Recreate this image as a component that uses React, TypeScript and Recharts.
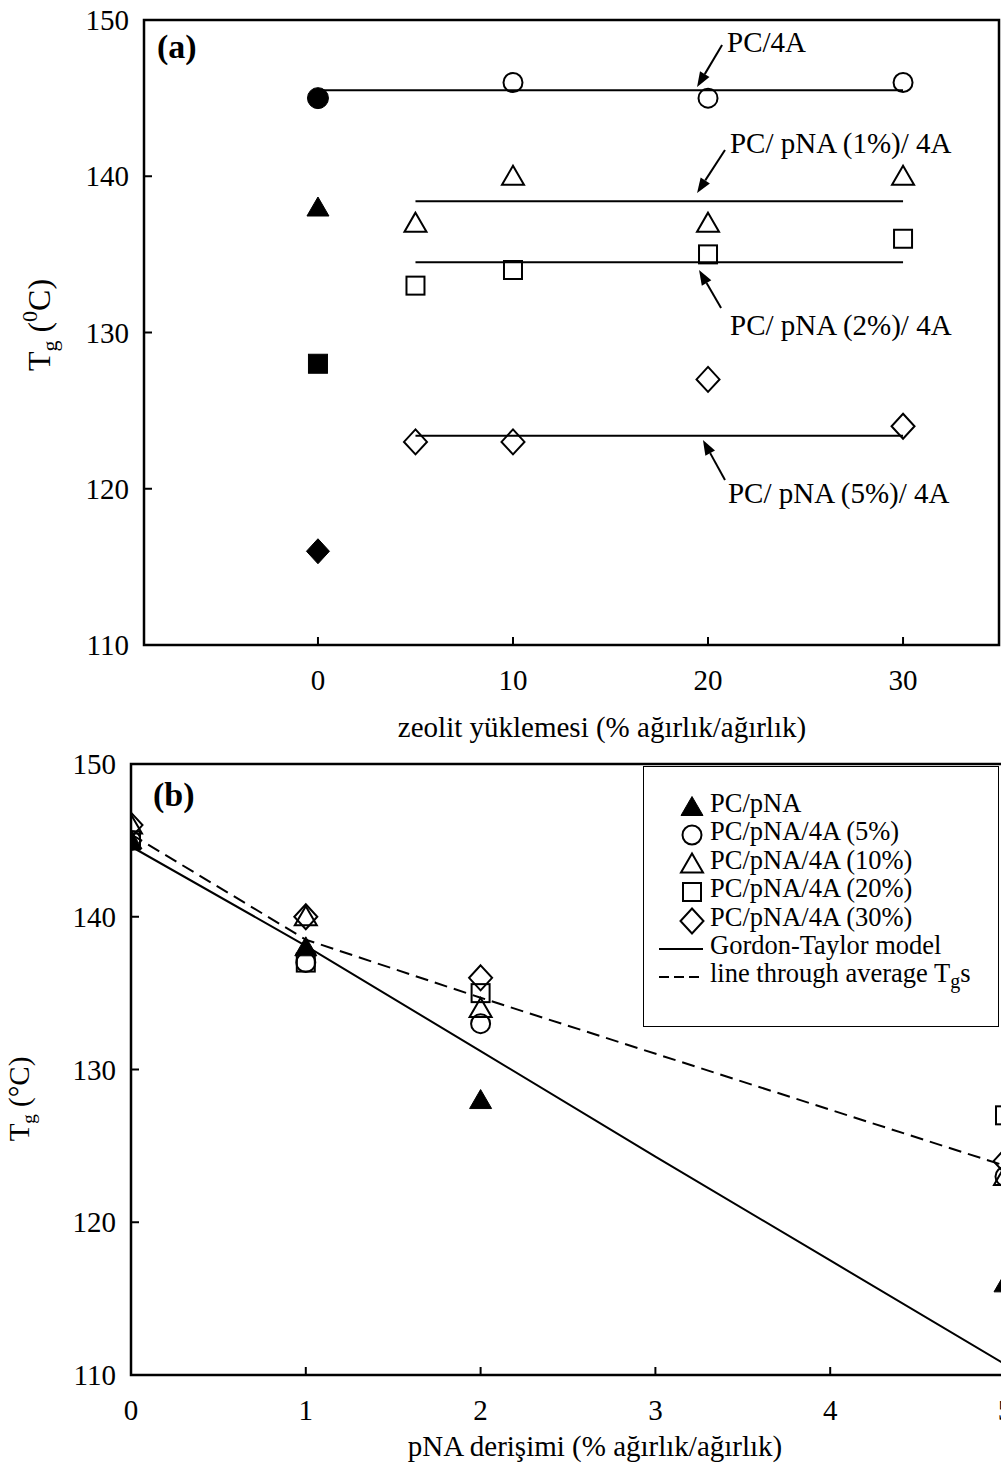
import React from "react";
import {
  ComposedChart,
  XAxis,
  YAxis,
  Scatter,
  Line,
  ReferenceArea,
  ReferenceLine,
  Legend,
} from "recharts";

// (a) Tg vs zeolite loading, (b) Tg vs pNA concentration
// layout numbers tuned to the scanned figure

const FONT = "'Liberation Serif', 'Times New Roman', serif";

// ---- panel (a) data ----
const loadingTicks = [0, 10, 20, 30];
const tgTicks = [110, 120, 130, 140, 150];
const noZeoliteTg = [145, 138, 128, 116]; // PC, pNA 1%, 2%, 5% at 0 loading
const pc4aLoading = [10, 20, 30];
const pc4aTg = [146, 145, 146];
const openLoading = [5, 10, 20, 30];
const pna1Tg = [137, 140, 137, 140];
const pna2Tg = [133, 134, 135, 136];
const pna5Tg = [123, 123, 127, 124];
const meanTg = [145.5, 138.4, 134.5, 123.4];
const meanFrom = [0, 5, 5, 5];
const meanTo = [30, 30, 30, 30];

// ---- panel (b) data ----
const pnaTicks = [0, 1, 2, 3, 4, 5];
const pnaConc = [0, 1, 2, 5];
const pcPnaTg = [145, 138, 128, 116];
const z5Tg = [145, 137, 133, 123];
const z10Tg = [146, 140, 134, 123];
const z20Tg = [145, 137, 135, 127];
const z30Tg = [146, 140, 136, 124];
const gtConc = [0, 1, 2, 3, 4, 5];
const gtTg = [144.6, 138.1, 131.2, 124.3, 117.5, 110.7];
const avgTg = [145.4, 138.5, 134.7, 123.7];

const xDomainA = [-8.92, 34.92];
const xDomainB = [0, 5];
const tgDomain = [110, 150];

const pts = (xs: number[], ys: number[]) => xs.map((x, i) => ({ x, y: ys[i] }));

type Kind = "circle" | "triangle" | "square" | "diamond";

function Mark({ kind, filled, cx, cy }: { kind: Kind; filled?: boolean; cx: number; cy: number }) {
  const fill = filled ? "#000" : "none";
  const sw = filled ? 1 : 2;
  if (kind === "circle") {
    return <circle cx={cx} cy={cy} r={filled ? 10.5 : 9.5} fill={fill} stroke="#000" strokeWidth={sw} />;
  }
  if (kind === "triangle") {
    const p = `${cx},${cy - 10.5} ${cx - 11},${cy + 8.5} ${cx + 11},${cy + 8.5}`;
    return <polygon points={p} fill={fill} stroke="#000" strokeWidth={sw} strokeLinejoin="miter" />;
  }
  if (kind === "square") {
    const h = filled ? 9.5 : 9;
    return <rect x={cx - h} y={cy - h} width={2 * h} height={2 * h} fill={fill} stroke="#000" strokeWidth={sw} />;
  }
  const p = `${cx},${cy - 12.5} ${cx + 11.5},${cy} ${cx},${cy + 12.5} ${cx - 11.5},${cy}`;
  return <polygon points={p} fill={fill} stroke="#000" strokeWidth={sw} />;
}

const shapeOf = (kind: Kind, filled = false) => (p: any) => (
  <Mark kind={kind} filled={filled} cx={p.cx} cy={p.cy} />
);

const XTick = (labelGap: number) => (p: any) => (
  <g>
    <line x1={p.x} x2={p.x} y1={p.y} y2={p.y - 8} stroke="#000" strokeWidth={2} />
    <text x={p.x} y={p.y + labelGap} textAnchor="middle" fontFamily={FONT} fontSize={29} fill="#000">
      {p.payload.value}
    </text>
  </g>
);

const YTick = (p: any) => (
  <g>
    <line x1={p.x} x2={p.x + 8} y1={p.y} y2={p.y} stroke="#000" strokeWidth={2} />
    <text x={p.x - 15} y={p.y + 10} textAnchor="end" fontFamily={FONT} fontSize={29} fill="#000">
      {p.payload.value}
    </text>
  </g>
);

// arrow annotations for panel (a): tail -> tip in data units, text offset in px from tail
const annotations = [
  { text: "PC/4A", tail: [20.72, 148.4], tip: [19.44, 145.71], dx: 5, dy: 7 },
  { text: "PC/ pNA (1%)/ 4A", tail: [20.87, 141.68], tip: [19.44, 138.93], dx: 5, dy: 3 },
  { text: "PC/ pNA (2%)/ 4A", tail: [20.67, 131.57], tip: [19.54, 134.0], dx: 9, dy: 27 },
  { text: "PC/ pNA (5%)/ 4A", tail: [20.87, 120.56], tip: [19.74, 123.12], dx: 3, dy: 23 },
];

const arrowShape = (text: string, dx: number, dy: number) => (p: any) => {
  const { x1, y1, x2, y2 } = p;
  const ang = Math.atan2(y2 - y1, x2 - x1);
  const L = 15;
  const W = 5.5;
  const bx = x2 - L * Math.cos(ang);
  const by = y2 - L * Math.sin(ang);
  const nx = -Math.sin(ang) * W;
  const ny = Math.cos(ang) * W;
  return (
    <g>
      <line x1={x1} y1={y1} x2={bx} y2={by} stroke="#000" strokeWidth={2} />
      <polygon points={`${x2},${y2} ${bx + nx},${by + ny} ${bx - nx},${by - ny}`} fill="#000" />
      <text x={x1 + dx} y={y1 + dy} fontFamily={FONT} fontSize={29} fill="#000">
        {text}
      </text>
    </g>
  );
};

const legendRows: { kind: Kind | "solid" | "dashed"; filled?: boolean; label: React.ReactNode }[] = [
  { kind: "triangle", filled: true, label: "PC/pNA" },
  { kind: "circle", label: "PC/pNA/4A (5%)" },
  { kind: "triangle", label: "PC/pNA/4A (10%)" },
  { kind: "square", label: "PC/pNA/4A (20%)" },
  { kind: "diamond", label: "PC/pNA/4A (30%)" },
  { kind: "solid", label: "Gordon-Taylor model" },
  {
    kind: "dashed",
    label: (
      <>
        line through average T
        <span style={{ fontSize: 20, position: "relative", top: 6 }}>g</span>s
      </>
    ),
  },
];

function LegendBox() {
  return (
    <div
      style={{
        width: 356,
        height: 261,
        border: "1.5px solid #000",
        boxSizing: "border-box",
        background: "#fff",
        position: "relative",
        fontFamily: FONT,
        fontSize: 26.5,
        color: "#000",
      }}
    >
      {legendRows.map((r, i) => (
        <div key={i} style={{ position: "absolute", left: 0, top: 26 + i * 28.4, height: 28, width: "100%" }}>
          <svg width={64} height={28} style={{ position: "absolute", left: 12, top: 0 }}>
            {r.kind === "solid" || r.kind === "dashed" ? (
              <line
                x1={3}
                x2={47}
                y1={14}
                y2={14}
                stroke="#000"
                strokeWidth={1.8}
                strokeDasharray={r.kind === "dashed" ? "10 5" : undefined}
              />
            ) : (
              <Mark kind={r.kind} filled={r.filled} cx={36} cy={14} />
            )}
          </svg>
          <span style={{ position: "absolute", left: 66, top: -4, lineHeight: "28px", whiteSpace: "nowrap" }}>
            {r.label}
          </span>
        </div>
      ))}
    </div>
  );
}

function PanelA() {
  return (
    <ComposedChart width={1001} height={762} margin={{ top: 20, right: 2, bottom: 0, left: 0 }}>
      <XAxis
        type="number"
        dataKey="x"
        domain={xDomainA}
        allowDataOverflow
        ticks={loadingTicks}
        interval={0}
        axisLine={false}
        tickLine={false}
        tickSize={0}
        tickMargin={0}
        height={117}
        tick={XTick(45)}
        label={{
          content: () => (
            <text x={602} y={737} textAnchor="middle" fontFamily={FONT} fontSize={29} fill="#000">
              zeolit yüklemesi (% ağırlık/ağırlık)
            </text>
          ),
        }}
      />
      <YAxis
        type="number"
        dataKey="y"
        domain={tgDomain}
        allowDataOverflow
        ticks={tgTicks}
        interval={0}
        axisLine={false}
        tickLine={false}
        tickSize={0}
        tickMargin={0}
        width={144}
        tick={YTick}
        label={{
          content: () => (
            <text transform="translate(50,325) rotate(-90)" textAnchor="middle" fontFamily={FONT} fontSize={32} fill="#000">
              T<tspan fontSize={22} dy={7}>g</tspan>
              <tspan dy={-7}> (</tspan>
              <tspan fontSize={22} dy={-13}>0</tspan>
              <tspan dy={13}>C)</tspan>
            </text>
          ),
        }}
      />
      <ReferenceArea
        x1={xDomainA[0]}
        x2={xDomainA[1]}
        y1={tgDomain[0]}
        y2={tgDomain[1]}
        fill="none"
        fillOpacity={0}
        stroke="#000"
        strokeWidth={2.5}
        label={{
          content: () => (
            <text x={157} y={58} fontFamily={FONT} fontSize={34} fontWeight="bold" fill="#000">
              (a)
            </text>
          ),
        }}
      />
      {meanTg.map((tg, i) => (
        <Line
          key={"m" + i}
          data={pts([meanFrom[i], meanTo[i]], [tg, tg])}
          dataKey="y"
          type="linear"
          stroke="#000"
          strokeWidth={2}
          dot={false}
          activeDot={false}
          isAnimationActive={false}
        />
      ))}
      <Scatter data={pts([0], [noZeoliteTg[0]])} dataKey="y" shape={shapeOf("circle", true)} isAnimationActive={false} />
      <Scatter data={pts([0], [noZeoliteTg[1]])} dataKey="y" shape={shapeOf("triangle", true)} isAnimationActive={false} />
      <Scatter data={pts([0], [noZeoliteTg[2]])} dataKey="y" shape={shapeOf("square", true)} isAnimationActive={false} />
      <Scatter data={pts([0], [noZeoliteTg[3]])} dataKey="y" shape={shapeOf("diamond", true)} isAnimationActive={false} />
      <Scatter data={pts(pc4aLoading, pc4aTg)} dataKey="y" shape={shapeOf("circle")} isAnimationActive={false} />
      <Scatter data={pts(openLoading, pna1Tg)} dataKey="y" shape={shapeOf("triangle")} isAnimationActive={false} />
      <Scatter data={pts(openLoading, pna2Tg)} dataKey="y" shape={shapeOf("square")} isAnimationActive={false} />
      <Scatter data={pts(openLoading, pna5Tg)} dataKey="y" shape={shapeOf("diamond")} isAnimationActive={false} />
      {annotations.map((a, i) => (
        <ReferenceLine
          key={"a" + i}
          segment={[
            { x: a.tail[0], y: a.tail[1] },
            { x: a.tip[0], y: a.tip[1] },
          ]}
          shape={arrowShape(a.text, a.dx, a.dy)}
        />
      ))}
    </ComposedChart>
  );
}

function PanelB() {
  return (
    <ComposedChart width={1010} height={730} margin={{ top: 24, right: 5, bottom: 0, left: 0 }}>
      <XAxis
        type="number"
        dataKey="x"
        domain={xDomainB}
        allowDataOverflow
        ticks={pnaTicks}
        interval={0}
        axisLine={false}
        tickLine={false}
        tickSize={0}
        tickMargin={0}
        height={95}
        tick={XTick(45)}
        label={{
          content: () => (
            <text x={595} y={716} textAnchor="middle" fontFamily={FONT} fontSize={29} fill="#000">
              pNA derişimi (% ağırlık/ağırlık)
            </text>
          ),
        }}
      />
      <YAxis
        type="number"
        dataKey="y"
        domain={tgDomain}
        allowDataOverflow
        ticks={tgTicks}
        interval={0}
        axisLine={false}
        tickLine={false}
        tickSize={0}
        tickMargin={0}
        width={131}
        tick={YTick}
        label={{
          content: () => (
            <text transform="translate(29,359) rotate(-90)" textAnchor="middle" fontFamily={FONT} fontSize={29} fill="#000">
              T<tspan fontSize={19} dy={6}>g</tspan>
              <tspan dy={-6}> (°C)</tspan>
            </text>
          ),
        }}
      />
      <ReferenceArea
        x1={xDomainB[0]}
        x2={xDomainB[1]}
        y1={tgDomain[0]}
        y2={tgDomain[1]}
        fill="none"
        fillOpacity={0}
        stroke="#000"
        strokeWidth={2.5}
        label={{
          content: () => (
            <text x={153} y={66} fontFamily={FONT} fontSize={34} fontWeight="bold" fill="#000">
              (b)
            </text>
          ),
        }}
      />
      <Line
        name="Gordon-Taylor model"
        data={pts(gtConc, gtTg)}
        dataKey="y"
        type="linear"
        stroke="#000"
        strokeWidth={2}
        dot={false}
        activeDot={false}
        isAnimationActive={false}
      />
      <Line
        name="line through average Tgs"
        data={pts(pnaConc, avgTg)}
        dataKey="y"
        type="linear"
        stroke="#000"
        strokeWidth={2}
        strokeDasharray="13 7"
        dot={false}
        activeDot={false}
        isAnimationActive={false}
      />
      <Scatter name="PC/pNA/4A (5%)" data={pts(pnaConc, z5Tg)} dataKey="y" shape={shapeOf("circle")} isAnimationActive={false} />
      <Scatter name="PC/pNA/4A (10%)" data={pts(pnaConc, z10Tg)} dataKey="y" shape={shapeOf("triangle")} isAnimationActive={false} />
      <Scatter name="PC/pNA/4A (20%)" data={pts(pnaConc, z20Tg)} dataKey="y" shape={shapeOf("square")} isAnimationActive={false} />
      <Scatter name="PC/pNA/4A (30%)" data={pts(pnaConc, z30Tg)} dataKey="y" shape={shapeOf("diamond")} isAnimationActive={false} />
      <Scatter name="PC/pNA" data={pts(pnaConc, pcPnaTg)} dataKey="y" shape={shapeOf("triangle", true)} isAnimationActive={false} />
      <Legend
        layout="horizontal"
        align="center"
        verticalAlign="middle"
        wrapperStyle={{ left: 643, top: 26, width: 356, height: 261 }}
        content={() => <LegendBox />}
      />
    </ComposedChart>
  );
}

export default function App() {
  return (
    <div
      style={{
        position: "absolute",
        left: 0,
        top: 0,
        width: 1001,
        height: 1470,
        overflow: "hidden",
        background: "#fff",
      }}
    >
      <div style={{ position: "absolute", left: 0, top: 0 }}>
        <PanelA />
      </div>
      <div style={{ position: "absolute", left: 0, top: 740 }}>
        <PanelB />
      </div>
    </div>
  );
}
